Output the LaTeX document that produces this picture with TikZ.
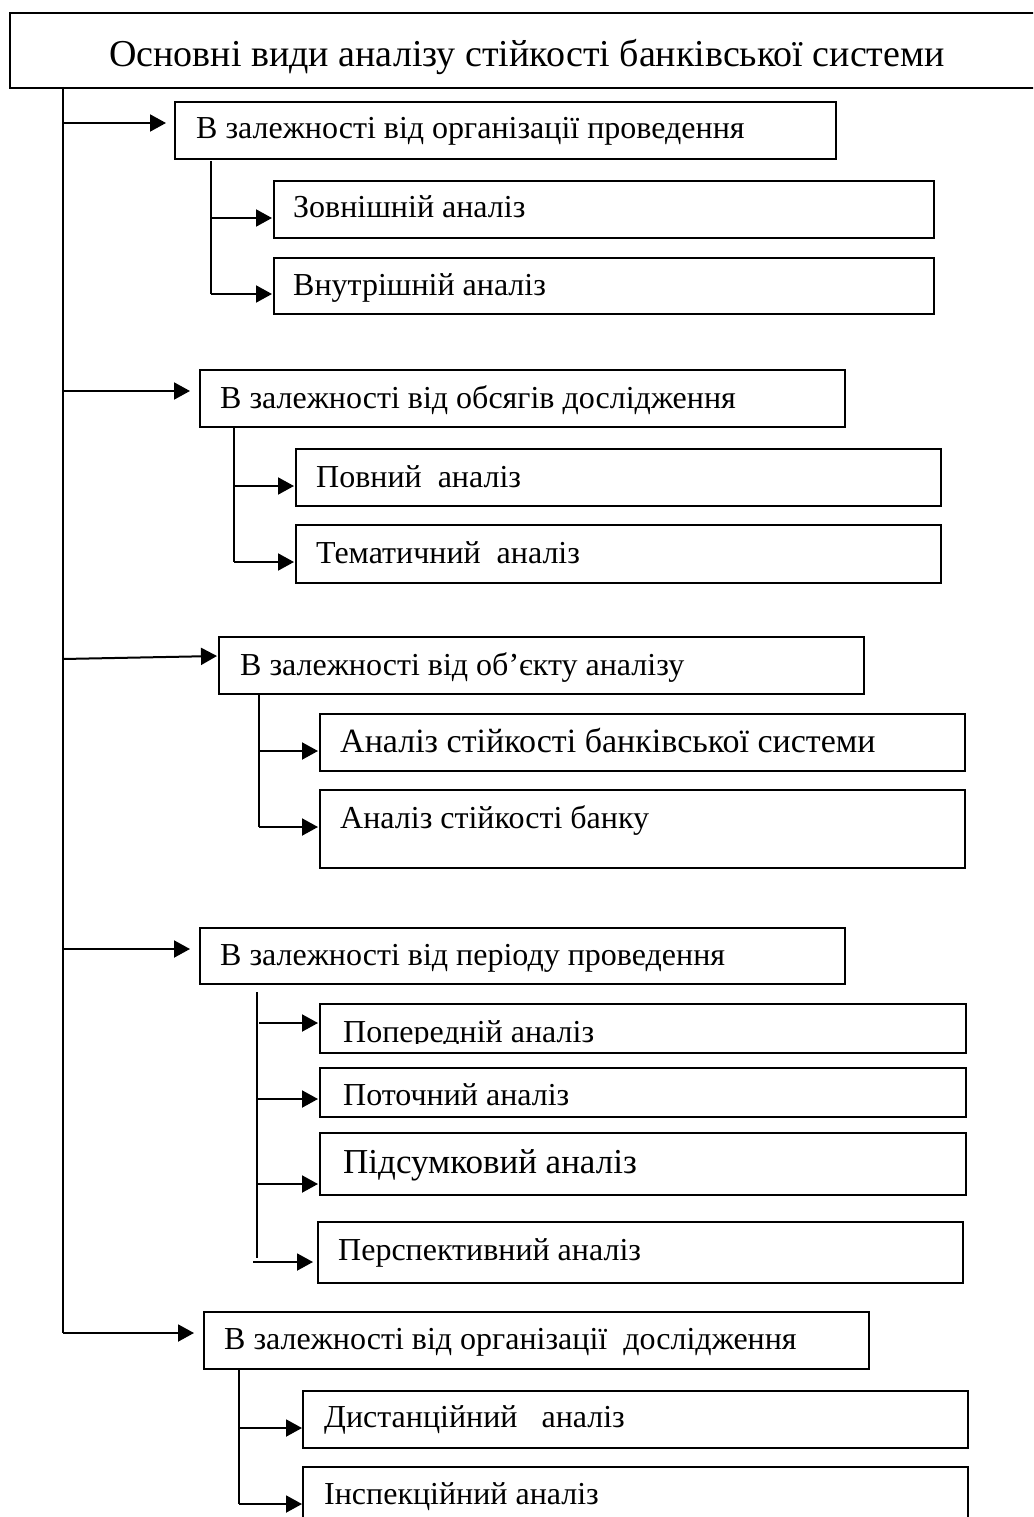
\documentclass[tikz,border=0pt]{standalone}
\usepackage{fontspec}
\setmainfont{Liberation Serif}
\usetikzlibrary{arrows.meta}

\begin{document}
\begin{tikzpicture}[x=1pt,y=-1pt,
  frame/.style={draw, line width=1.8pt, anchor=north west, inner sep=0pt},
  label/.style={anchor=base west, inner sep=0pt, font=\fontsize{32}{32}\selectfont},
  arr/.style={line width=2pt, -{Triangle[length=16pt,width=17pt]}},
  bar/.style={line width=1.7pt},
  trunkline/.style={line width=1.6pt}
]
\useasboundingbox (0,0) rectangle (1033,1517);
\clip (0,0) rectangle (1033,1517);

% Title box (runs past the right edge)
\node[frame, line width=2.2pt, minimum width=1070pt, minimum height=75pt] (top) at (9,12) {};
\node[anchor=base, inner sep=0pt, font=\fontsize{38}{38}\selectfont] (toptext) at (527,67)
  {Основні види аналізу стійкості банківської системи};

% Group 1
\node[frame, minimum width=661pt, minimum height=57pt] (h1) at (174,101) {};
\node[label] (h1t) at (196,139) {В залежності від організації проведення};
\node[frame, minimum width=660pt, minimum height=57pt] (s11) at (273,180) {};
\node[label] (s11t) at (293,218) {Зовнішній аналіз};
\node[frame, minimum width=660pt, minimum height=56pt] (s12) at (273,257) {};
\node[label] (s12t) at (293,295) {Внутрішній аналіз};

% Group 2
\node[frame, minimum width=645pt, minimum height=57pt] (h2) at (199,369) {};
\node[label] (h2t) at (220,408) {В залежності від обсягів дослідження};
\node[frame, minimum width=645pt, minimum height=57pt] (s21) at (295,448) {};
\node[label] (s21t) at (316,487) {Повний\ \ аналіз};
\node[frame, minimum width=645pt, minimum height=58pt] (s22) at (295,524) {};
\node[label] (s22t) at (316,563) {Тематичний\ \ аналіз};

% Group 3
\node[frame, minimum width=645pt, minimum height=57pt] (h3) at (218,636) {};
\node[label] (h3t) at (240,675) {В залежності від об’єкту аналізу};
\node[frame, minimum width=645pt, minimum height=57pt] (s31) at (319,713) {};
\node[label, font=\fontsize{34}{34}\selectfont] (s31t) at (340,752) {Аналіз стійкості банківської системи};
\node[frame, minimum width=645pt, minimum height=78pt] (s32) at (319,789) {};
\node[label] (s32t) at (340,828) {Аналіз стійкості банку};

% Group 4
\node[frame, minimum width=645pt, minimum height=56pt] (h4) at (199,927) {};
\node[label] (h4t) at (220,965) {В залежності від періоду проведення};
\node[frame, minimum width=646pt, minimum height=49pt] (s41) at (319,1003) {};
\begin{scope}
  \clip (319,1003) rectangle (965,1043);
  \node[label] (s41t) at (343,1042.5) {Попередній аналіз};
\end{scope}
\node[frame, minimum width=646pt, minimum height=49pt] (s42) at (319,1067) {};
\begin{scope}
  \clip (319,1067) rectangle (965,1106);
  \node[label] (s42t) at (343,1105.5) {Поточний аналіз};
\end{scope}
\node[frame, minimum width=646pt, minimum height=62pt] (s43) at (319,1132) {};
\node[label, font=\fontsize{35}{35}\selectfont] (s43t) at (343,1173) {Підсумковий аналіз};
\node[frame, minimum width=645pt, minimum height=61pt] (s44) at (317,1221) {};
\node[label] (s44t) at (338,1260) {Перспективний аналіз};

% Group 5
\node[frame, minimum width=665pt, minimum height=57pt] (h5) at (203,1311) {};
\node[label] (h5t) at (224,1349) {В залежності від організації\ \ дослідження};
\node[frame, minimum width=665pt, minimum height=57pt] (s51) at (302,1390) {};
\node[label] (s51t) at (324,1427) {Дистанційний\ \ \ аналіз};
\node[frame, minimum width=665pt, minimum height=70pt] (s52) at (302,1466) {};
\node[label] (s52t) at (324,1504) {Інспекційний аналіз};

% Trunk from the title box
\coordinate (t0) at (63,87);
\coordinate (t1) at (63,123);
\coordinate (t2) at (63,391);
\coordinate (t3) at (63,659);
\coordinate (t4) at (63,949);
\coordinate (t5) at (63,1333);
\draw[trunkline] (t0) -- (t5);
\draw[arr, shorten >=8pt] (t1) -- (h1.west |- t1);
\draw[arr, shorten >=9pt] (t2) -- (h2.west |- t2);
\draw[arr] (t3) -- (217,656) coordinate (h3in);
\draw[arr, shorten >=9pt] (t4) -- (h4.west |- t4);
\draw[arr, shorten >=9pt] (t5) -- (h5.west |- t5);

% Branches of group 1
\coordinate (b1a) at (211,161);
\coordinate (b1b) at (211,218);
\coordinate (b1c) at (211,294);
\draw[bar] (b1a) -- (b1c);
\draw[arr, shorten >=1pt] (b1b) -- (s11.west |- b1b);
\draw[arr, shorten >=1pt] (b1c) -- (s12.west |- b1c);

% Branches of group 2
\coordinate (b2a) at (234,428);
\coordinate (b2b) at (234,486);
\coordinate (b2c) at (234,562);
\draw[bar] (b2a) -- (b2c);
\draw[arr, shorten >=1pt] (b2b) -- (s21.west |- b2b);
\draw[arr, shorten >=1pt] (b2c) -- (s22.west |- b2c);

% Branches of group 3
\coordinate (b3a) at (259,695);
\coordinate (b3b) at (259,751);
\coordinate (b3c) at (259,827);
\draw[bar] (b3a) -- (b3c);
\draw[arr, shorten >=1pt] (b3b) -- (s31.west |- b3b);
\draw[arr, shorten >=1pt] (b3c) -- (s32.west |- b3c);

% Branches of group 4
\coordinate (b4a) at (257,992);
\coordinate (b4e) at (257,1258);
\coordinate (b4b) at (259,1023);
\coordinate (b4c) at (257,1099);
\coordinate (b4d) at (257,1184);
\coordinate (b4f) at (253,1262);
\draw[bar] (b4a) -- (b4e);
\draw[arr, shorten >=1pt] (b4b) -- (s41.west |- b4b);
\draw[arr, shorten >=1pt] (b4c) -- (s42.west |- b4c);
\draw[arr, shorten >=1pt] (b4d) -- (s43.west |- b4d);
\draw[arr, shorten >=4pt] (b4f) -- (s44.west |- b4f);

% Branches of group 5
\coordinate (b5a) at (239,1370);
\coordinate (b5b) at (239,1428);
\coordinate (b5c) at (239,1504);
\draw[bar] (b5a) -- (b5c);
\draw[arr] (b5b) -- (s51.west |- b5b);
\draw[arr] (b5c) -- (s52.west |- b5c);
\end{tikzpicture}
\end{document}
